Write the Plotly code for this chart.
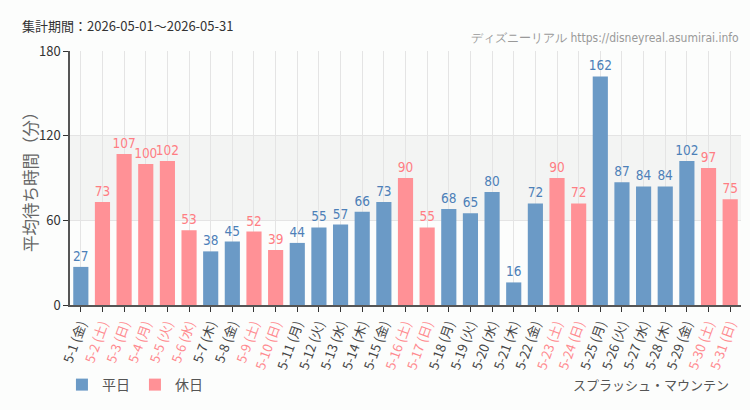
import plotly.graph_objects as go

days = list(range(1, 32))
weekdays_jp = ["金","土","日","月","火","水","木","金","土","日","月","火","水","木","金","土","日","月","火","水","木","金","土","日","月","火","水","木","金","土","日"]
values = [27,73,107,100,102,53,38,45,52,39,44,55,57,66,73,90,55,68,65,80,16,72,90,72,162,87,84,84,102,97,75]
holidays = [2,3,4,5,6,9,10,16,17,23,24,30,31]

labels = [f"5-{d} ({w})" for d, w in zip(days, weekdays_jp)]
is_hol = [d in holidays for d in days]

BLUE = "#6b9ac6"
PINK = "#ff9196"
BLUE_T = "#4d80b8"
PINK_T = "#ff7d83"
NARROW = "DejaVu Sans Condensed, Liberation Sans Narrow, sans-serif"

ticktext = [f"<span style='color:{'#ff8a8f' if h else '#444'}'>{l}</span>" for l, h in zip(labels, is_hol)]

fig = go.Figure()
for name, flag, col, tcol in [("平日", False, BLUE, BLUE_T), ("休日", True, PINK, PINK_T)]:
    xs = [l for l, h in zip(labels, is_hol) if h == flag]
    ys = [v for v, h in zip(values, is_hol) if h == flag]
    fig.add_trace(go.Bar(
        x=xs, y=ys, name=name, marker=dict(color=col, line=dict(width=0)),
        text=[str(v) for v in ys], textposition="outside", cliponaxis=False,
        constraintext="none",
        textfont=dict(color=tcol, size=13.5, family=NARROW),
    ))

fig.add_shape(type="rect", xref="paper", yref="y", x0=0, x1=1, y0=60, y1=120,
              fillcolor="#f3f4f3", line=dict(width=0), layer="below")

fig.update_layout(
    width=750, height=410,
    margin=dict(l=70, r=9, t=51, b=105),
    paper_bgcolor="#fcfdfc", plot_bgcolor="#fcfdfc",
    barmode="overlay", bargap=0.3,
    font=dict(family="Noto Sans CJK JP, sans-serif", color="#444"),
    showlegend=True,
    legend=dict(orientation="h", x=-0.012, xanchor="left", y=-0.315, yanchor="middle",
                font=dict(size=14, color="#555"), bgcolor="rgba(0,0,0,0)",
                itemwidth=30, traceorder="normal"),
    xaxis=dict(
        categoryorder="array", categoryarray=labels,
        tickmode="array", tickvals=labels, ticktext=ticktext,
        tickangle=-70, tickfont=dict(size=13),
        showgrid=True, gridcolor="#e4e4e4", gridwidth=1,
        showline=True, linecolor="#555", linewidth=1.5,
        ticks="outside", ticklen=5, tickcolor="#333",
        range=[-0.5, len(labels) - 0.5],
    ),
    yaxis=dict(
        range=[0, 180], tickvals=[0, 60, 120, 180],
        tickfont=dict(size=13, color="#333"),
        showgrid=True, gridcolor="#e4e4e4",
        showline=True, linecolor="#555", linewidth=1.5,
        ticks="outside", ticklen=5, tickcolor="#333",
        zeroline=False,
    ),
    annotations=[
        dict(text="平均待ち時間（分）", xref="paper", yref="paper", textangle=-90,
             x=-40/671, xanchor="center", y=0.5, yanchor="middle", showarrow=False,
             font=dict(size=16.5, color="#666")),
        dict(text="集計期間：2026-05-01～2026-05-31", xref="paper", yref="paper",
             x=-50/671, xanchor="left", y=1 + 25/254, yanchor="middle", showarrow=False,
             font=dict(size=13, color="#333")),
        dict(text="ディズニーリアル https://disneyreal.asumirai.info", xref="paper", yref="paper",
             x=1, xanchor="right", y=1 + 13/254, yanchor="middle", showarrow=False,
             font=dict(size=12, color="#999", family=NARROW)),
        dict(text="スプラッシュ・マウンテン", xref="paper", yref="paper",
             x=1 - 10/671, xanchor="right", y=-80/254, yanchor="middle", showarrow=False,
             font=dict(size=13, color="#555")),
    ],
)

fig.write_html("out.html")
